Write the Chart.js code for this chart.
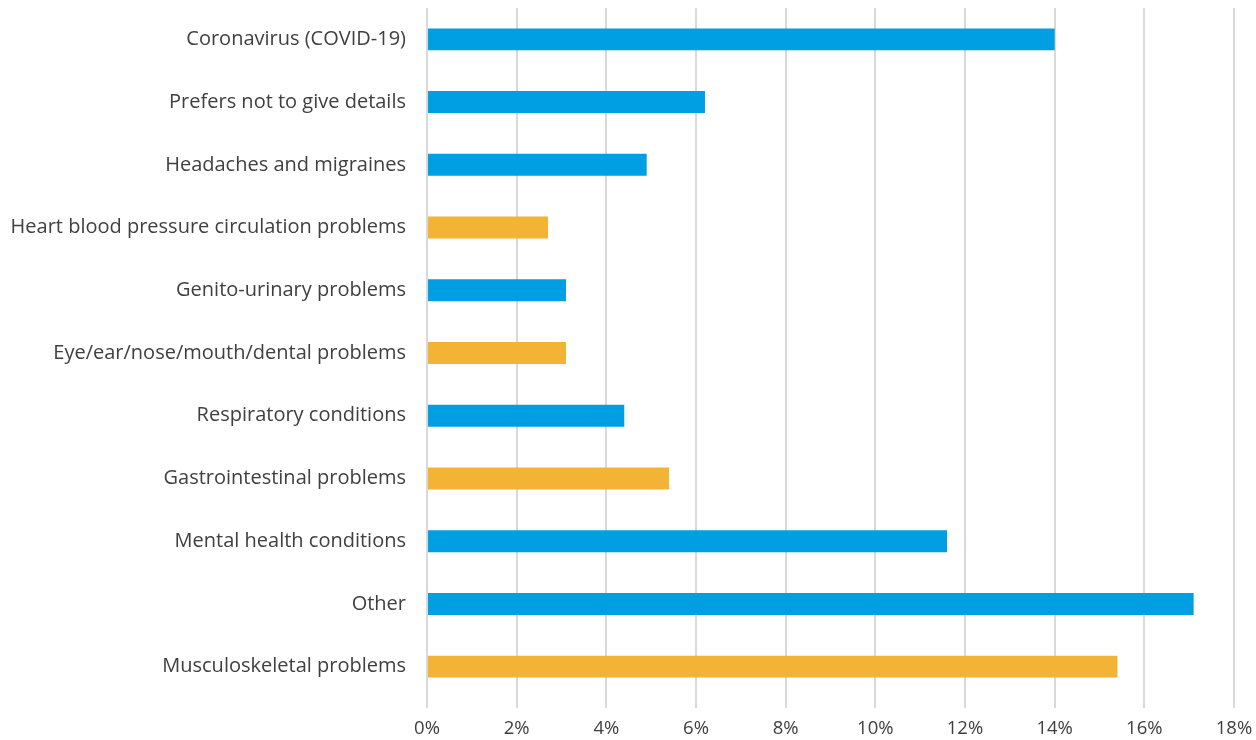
<!DOCTYPE html>
<html>
<head>
<meta charset="utf-8">
<script src="https://cdn.jsdelivr.net/npm/chart.js@4"></script>
<style>
  html, body { margin: 0; padding: 0; background: #fff; }
  #wrap { width: 1256px; height: 740px; }
</style>
</head>
<body>
<div id="wrap"><canvas id="myChart"></canvas></div>
<script>
const CATEGORIES = ['Coronavirus (COVID-19)', 'Prefers not to give details', 'Headaches and migraines',
  'Heart blood pressure circulation problems', 'Genito-urinary problems', 'Eye/ear/nose/mouth/dental problems',
  'Respiratory conditions', 'Gastrointestinal problems', 'Mental health conditions', 'Other', 'Musculoskeletal problems'];
const VALUES = [14.0, 6.2, 4.9, 2.7, 3.1, 3.1, 4.4, 5.4, 11.6, 17.1, 15.4];
const HIGHLIGHT = [false, false, false, true, false, true, false, true, false, false, true];

const BLUE = '#009FE3';
const ORANGE = '#F3B335';

const CONTEXT = document.getElementById('myChart').getContext('2d');
new Chart(CONTEXT,
{
    type: 'bar',
    data:
    {
        labels: CATEGORIES,
        datasets:
        [{
            data: VALUES,
            backgroundColor: HIGHLIGHT.map(h => h ? ORANGE : BLUE),
            borderWidth: 0,
            barPercentage: 0.7,
            categoryPercentage: 0.5
        }]
    },
    options:
    {
        indexAxis: 'y',
        responsive: true,
        maintainAspectRatio: false,
        animation: false,
        layout: { padding: { top: 8, right: 22, left: 0, bottom: 0 } },
        plugins:
        {
            legend: { display: false },
            tooltip: { enabled: false }
        },
        scales:
        {
            x:
            {
                min: 0,
                max: 18,
                afterFit: s => { s.height = 42; s.paddingLeft = 0; s.paddingRight = 0; },
                ticks:
                {
                    stepSize: 2,
                    padding: 10,
                    color: '#404040',
                    font: { family: 'Open Sans', size: 18.5 },
                    callback: v => v + '%'
                },
                grid: { color: '#d9d9d9', lineWidth: 2, drawTicks: true, tickLength: 10 },
                border: { display: false }
            },
            y:
            {
                // fixed width so the plot starts where the reference does
                afterFit: s => { s.width = 427; s.paddingTop = 0; s.paddingBottom = 0; },
                ticks:
                {
                    padding: 21,
                    color: '#404040',
                    font: { family: 'Open Sans', size: 20 }
                },
                grid: { display: false, drawTicks: false },
                border: { display: false }
            }
        }
    }
});
</script>
</body>
</html>
